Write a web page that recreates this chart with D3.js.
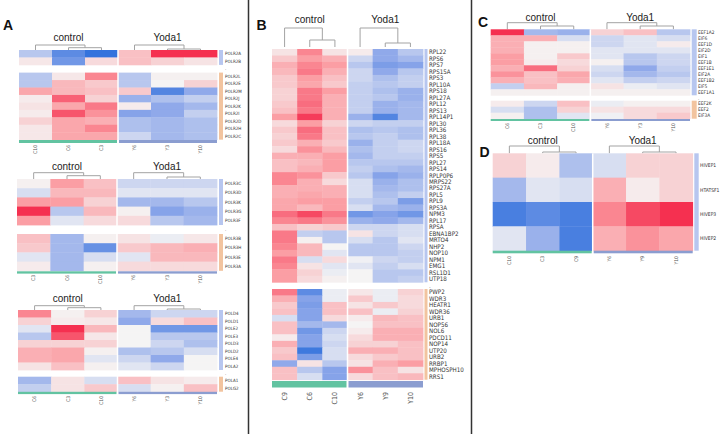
<!DOCTYPE html>
<html>
<head>
<meta charset="utf-8">
<script src="https://cdn.jsdelivr.net/npm/d3@7"></script>
<style>
body { margin: 0; background: #fff; }
text { font-family: "Liberation Sans", Arial, sans-serif; }
text.etiq { font-family: "Liberation Sans Narrow", "DejaVu Sans Condensed", "Liberation Sans", sans-serif; }
</style>
</head>
<body>
<div id="fig"></div>
<script>
// ---- data ----
const colsA1 = ["C10", "C6", "C3", "Y6", "Y3", "Y10"];
const rowsA1 = [["POLR2A", "POLR2B"],
  ["POLR2L", "POLR2E", "POLR2M", "POLR2J", "POLR2K", "POLR2I", "POLR2D", "POLR2H", "POLR2C"]];
const valsA1 = [
  [[-0.6, -1.5, -1.9, 0.6, 1.9, 1.9],
   [0.15, -1.3, 0.3, 0.6, 0.4, 0.2]],
  [[-0.6, 0.15, 1.2, -0.6, 0.05, 0.05],
   [-0.6, 0.7, 0.5, -0.6, 0.0, 0.4],
   [0.9, 0.7, 0.6, 0.5, -1.6, -1.0],
   [0.1, 1.5, 0.4, -0.9, -0.7, -0.5],
   [0.2, 0.9, 1.3, 0.1, -1.0, -0.8],
   [0.1, 1.6, 1.1, -1.1, -1.0, -0.5],
   [0.4, 0.9, 0.8, -0.7, -0.8, -0.7],
   [0.15, 0.9, 1.2, -0.7, -0.8, -0.7],
   [0.15, 0.9, 0.9, -0.4, -0.8, -0.7]]
];

const colsA2 = ["C3", "C6", "C10", "Y6", "Y3", "Y10"];
const rowsA2 = [["POLR3C", "POLR3D", "POLR3K", "POLR3G", "POLR3F"],
  ["POLR3B", "POLR3H", "POLR3E", "POLR3A"]];
const valsA2 = [
  [[0.05, 1.0, 0.6, -0.4, -0.4, -0.4],
   [-0.3, 0.7, 0.7, -0.2, -0.2, -0.2],
   [1.0, 1.0, 0.4, -0.8, -0.8, -0.6],
   [1.9, -0.6, 0.7, 0.05, -1.1, -0.9],
   [1.0, -0.2, 0.3, 0.3, -0.6, -0.8]],
  [[0.6, -0.8, 0.05, 0.2, -0.1, 0.15],
   [0.5, -0.8, -1.4, 0.5, 0.7, 0.8],
   [-0.2, -0.8, -0.3, -0.2, 0.7, 0.7],
   [0.1, -0.8, 0.05, 0.3, 0.3, 0.3]]
];

const colsA3 = ["C6", "C3", "C10", "Y6", "Y3", "Y10"];
const rowsA3 = [["POLD4", "POLD1", "POLE2", "POLE3", "POLD3", "POLD2", "POLE4", "POLA2"],
  ["POLA1", "POLG2"]];
const valsA3 = [
  [[1.2, 0.05, 0.4, -0.8, -0.4, -0.4],
   [0.4, 0.1, 0.15, -1.0, 0.3, 0.6],
   [-0.2, 1.9, 0.7, 0.0, -1.3, -1.3],
   [-0.6, 1.6, 0.15, 0.0, -0.6, -0.6],
   [0.4, 0.4, 0.4, 0.0, -0.4, -0.7],
   [0.8, 0.9, 0.05, -0.7, -0.6, -0.3],
   [0.8, 0.9, -0.2, -0.4, -1.0, 0.0],
   [0.2, 0.6, 0.05, -0.2, -0.4, 0.0]],
  [[-0.8, 0.2, -0.3, 0.6, 0.2, 0.1],
   [-0.5, 0.2, 0.5, -0.3, 0.05, 0.6]]
];

const colsB = ["C9", "C6", "C10", "Y6", "Y9", "Y10"];
const rowsB = [["RPL22", "RPS6", "RPS7", "RPS15A", "RPS3", "RPL10A", "RPS18", "RPL27A", "RPL12",
  "RPS13", "RPL14P1", "RPL30", "RPL36", "RPL38", "RPL18A", "RPS16", "RPS5", "RPL27", "RPS14",
  "RPLP0P6", "MRPS22", "RPS27A", "RPL5", "RPL9", "RPS3A", "NPM3", "RPL17", "RPSA", "EBNA1BP2",
  "MRTO4", "NHP2", "NOP10", "NPM1", "EMG1", "RSL1D1", "UTP18"],
  ["PWP2", "WDR3", "HEATR1", "WDR36", "URB1", "NOP56", "NOL6", "PDCD11", "NOP14", "UTP20",
  "URB2", "RRBP1", "MPHOSPH10", "RRS1"]];
const valsB = [
  [[0.2, 1.2, 0.2, 0.1, -1.0, -0.6],
   [0.5, 1.0, 0.8, -0.4, -1.0, -0.8],
   [0.8, 1.2, 1.0, -0.6, -1.2, -1.1],
   [0.7, 1.3, 0.8, -0.4, -1.0, -0.6],
   [0.5, 1.0, 0.6, -0.4, -0.7, -0.5],
   [0.5, 0.9, 0.5, -0.5, -0.6, -0.5],
   [0.4, 1.3, 1.0, -0.5, -0.7, -0.9],
   [0.4, 1.3, 0.8, -0.5, -0.6, -0.9],
   [0.5, 1.4, 0.8, -0.5, -0.9, -0.8],
   [0.6, 1.3, 0.8, -0.5, -0.9, -0.8],
   [1.0, 1.8, 0.8, -0.9, -1.6, -0.8],
   [0.3, 1.0, 0.4, -0.4, -0.5, -0.5],
   [0.5, 1.4, 0.6, -0.7, -0.6, -0.7],
   [0.4, 1.3, 0.6, -0.6, -0.5, -0.7],
   [0.5, 0.8, 0.5, -0.9, -0.5, -0.4],
   [0.3, 1.1, 0.7, -0.7, -0.5, -0.4],
   [0.8, 0.8, 1.0, -0.8, -0.5, -0.5],
   [0.6, 0.7, 1.0, -0.6, -0.6, -0.6],
   [0.6, 0.8, 1.0, -0.5, -0.7, -0.8],
   [1.2, 1.1, 0.5, -0.6, -1.1, -0.9],
   [1.2, 0.8, 0.3, -0.3, -0.9, -0.7],
   [0.8, 0.8, 0.8, -0.3, -0.8, -0.7],
   [0.8, 0.9, 0.8, -0.3, -0.7, -0.5],
   [0.9, 1.0, 1.0, -0.5, -0.6, -1.2],
   [0.9, 0.7, 1.0, -0.3, -0.8, -0.9],
   [1.4, 1.7, 1.3, -1.3, -1.1, -1.3],
   [1.2, 1.3, 1.1, -0.9, -1.0, -0.8],
   [0.6, 0.4, 0.5, -0.4, -0.4, -0.3],
   [1.3, -0.5, -0.6, 0.2, -0.4, -0.3],
   [1.3, 0.05, -0.6, -0.3, -0.6, -0.2],
   [1.2, 0.7, 0.0, -0.6, -0.6, -0.4],
   [1.0, 0.7, -0.2, -0.6, -0.6, -0.5],
   [1.3, -0.3, 0.3, -0.05, -0.4, -0.5],
   [1.2, 0.2, -0.2, -0.2, -0.5, -0.3],
   [1.0, 0.4, -0.1, 0.0, -0.6, -0.6],
   [1.0, 0.3, 0.05, 0.0, -0.6, -0.5]],
  [[1.3, -1.5, -0.1, 0.15, -0.1, 0.4],
   [0.8, -1.1, -0.1, 0.5, -0.1, 0.3],
   [0.5, -1.2, 0.6, 0.2, 0.5, 0.3],
   [0.6, -1.1, 0.6, 0.6, -0.1, 0.4],
   [-0.3, -1.1, 0.3, 0.1, 0.7, 0.6],
   [0.6, -0.8, -0.8, 0.0, 0.6, 0.6],
   [0.6, -1.3, -0.4, 0.1, 0.8, 0.8],
   [0.1, -1.1, -0.3, 0.3, 0.8, 0.8],
   [0.8, -1.1, -0.4, 0.4, 0.4, 0.6],
   [0.5, -1.8, -0.3, 0.8, 0.8, 0.6],
   [0.6, -1.2, -0.3, 0.3, 0.5, 0.6],
   [-1.0, 0.2, -0.6, 0.2, 0.8, 1.0],
   [0.6, -0.6, -1.1, 1.1, 0.6, 0.2],
   [0.6, -0.3, -1.1, 0.3, 0.6, 0.7]]
];

const colsC = ["C6", "C3", "C10", "Y6", "Y3", "Y10"];
const rowsC = [["EEF1A2", "EIF6", "EEF1D", "EIF2D", "EIF1", "EEF1B", "EEF1E1", "EIF2A", "EEF1B2", "EIF5", "EEF1A1"],
  ["EEF2K", "EEF2", "EIF3A"]];
const valsC = [
  [[1.9, -0.8, -0.9, 0.4, 0.6, -0.6],
   [0.8, 0.8, -0.3, -0.4, -0.2, -0.3],
   [0.8, 0.05, 0.05, -0.4, -0.2, 0.1],
   [0.8, 0.05, 0.05, -0.2, -0.2, -0.2],
   [1.0, 0.05, 0.5, -0.2, -0.6, -0.4],
   [1.0, 0.1, 0.3, 0.05, -0.6, -0.4],
   [0.8, 1.4, 0.4, -0.3, -1.0, -0.5],
   [1.1, 0.6, 0.9, -0.4, -0.8, -0.6],
   [0.8, 0.6, 0.8, -0.2, -0.5, -0.4],
   [-0.5, 0.7, 0.05, 0.2, -0.1, -0.2],
   [0.05, 0.05, 0.05, 0.05, 0.05, 0.05]],
  [[0.1, -0.4, 0.6, -0.1, 0.05, 0.05],
   [-0.3, -0.7, 0.4, 0.2, 0.3, 0.3],
   [0.05, -0.7, -0.2, -0.05, 0.3, 0.5]]
];

const colsD = ["C10", "C3", "C9", "Y6", "Y9", "Y10"];
const rowsD = [["HIVEP1", "HTATSF1", "HIVEP3", "HIVEP2"]];
const valsD = [
  [[0.4, 0.1, -0.7, -0.3, 0.4, 0.4],
   [-0.8, -0.2, -0.3, 0.8, 0.1, 0.4],
   [-1.7, -1.5, -1.7, 1.2, 1.7, 1.9],
   [-0.2, -0.9, -1.7, 0.8, 1.1, 0.9]]
];

const groups = ["control", "Yoda1"];

// ---- drawing ----
const W = 720, H = 434;
const svg = d3.select("#fig").append("svg")
  .attr("width", W).attr("height", H);

const color = d3.scaleLinear()
  .domain([-2, -1, 0, 1, 2])
  .range(["#2a6ddb", "#90a9ea", "#f5f4f4", "#fb9ea4", "#f42447"])
  .clamp(true);

const grupColor = ["#62c3a1", "#8b9dd0"];
const blocColor = ["#b7c6ef", "#f2c49f"];

function panell(p) {
  const g = svg.append("g");
  const x = d3.scaleBand().domain(p.cols).range([p.x0, p.x1]);
  const cw = x.bandwidth();

  // titles
  groups.forEach((t, i) => {
    g.append("text")
      .attr("x", (x(p.cols[i * 3]) + x(p.cols[i * 3 + 2]) + cw) / 2)
      .attr("y", p.titleY)
      .attr("text-anchor", "middle")
      .attr("font-size", 10)
      .attr("fill", "#222")
      .text(t);
  });

  // dendrograms
  groups.forEach((t, i) => {
    const c = [0, 1, 2].map(k => x(p.cols[i * 3 + k]) + cw / 2);
    const mid = (c[1] + c[2]) / 2;
    const top = p.dTop, sub = p.dSub[i], bot = p.dBot;
    const segs = [
      [c[0], top, mid, top], [c[0], top, c[0], bot], [mid, top, mid, sub],
      [c[1], sub, c[2], sub], [c[1], sub, c[1], bot], [c[2], sub, c[2], bot]
    ];
    g.append("g").selectAll("line").data(segs).enter().append("line")
      .attr("x1", d => d[0]).attr("y1", d => d[1])
      .attr("x2", d => d[2]).attr("y2", d => d[3])
      .attr("stroke", "#a3a3a3").attr("stroke-width", 1);
  });

  // blocks
  p.rows.forEach((files, b) => {
    const y = d3.scaleBand().domain(files)
      .range([p.yTop[b], p.yTop[b] + files.length * p.rowH]);
    const cel = [];
    files.forEach((r, ri) => p.cols.forEach((cn, ci) =>
      cel.push({r: r, c: cn, v: p.vals[b][ri][ci]})));
    g.append("g").selectAll("rect").data(cel).enter().append("rect")
      .attr("x", d => x(d.c))
      .attr("y", d => y(d.r))
      .attr("width", cw + 0.4)
      .attr("height", y.bandwidth() + 0.4)
      .attr("fill", d => color(d.v));
    // row annotation bar
    g.append("rect")
      .attr("x", p.annX).attr("y", p.yTop[b])
      .attr("width", p.annW).attr("height", files.length * p.rowH)
      .attr("fill", blocColor[b]);
    // row labels
    g.append("g").selectAll("text").data(files).enter().append("text")
      .attr("class", "etiq")
      .attr("x", p.labX)
      .attr("y", d => y(d) + y.bandwidth() / 2)
      .attr("dy", "0.35em")
      .attr("font-size", p.labFont)
      .attr("fill", "#333")
      .text(d => d);
    if (b === 0 && p.rows.length > 1) {
      g.append("text")
        .attr("x", p.labX)
        .attr("y", (p.yTop[0] + files.length * p.rowH + p.yTop[1]) / 2)
        .attr("dy", "0.35em")
        .attr("font-size", p.labFont)
        .attr("fill", "#555")
        .text(".");
    }
  });

  // white separator between groups
  const sx = x(p.cols[3]);
  g.append("line")
    .attr("x1", sx).attr("x2", sx)
    .attr("y1", p.yTop[0]).attr("y2", p.annY + p.annH)
    .attr("stroke", "#fff").attr("stroke-width", 1.5);

  // column annotation
  groups.forEach((t, i) => {
    g.append("rect")
      .attr("x", x(p.cols[i * 3]) + (i ? 1 : 0))
      .attr("y", p.annY)
      .attr("width", cw * 3 - 1)
      .attr("height", p.annH)
      .attr("fill", grupColor[i]);
  });

  // column labels
  g.append("g").selectAll("text").data(p.cols).enter().append("text")
    .attr("class", "etiq")
    .attr("transform", d => `translate(${x(d) + cw / 2},${p.colLabY}) rotate(-90)`)
    .attr("text-anchor", "end")
    .attr("dy", "0.35em")
    .attr("font-size", p.colFont)
    .attr("fill", "#555")
    .text(d => d);

  if (p.lletra) {
    g.append("text")
      .attr("x", p.lletra[1]).attr("y", p.lletra[2])
      .attr("font-size", 14).attr("font-weight", "bold")
      .attr("fill", "#111")
      .text(p.lletra[0]);
  }
}

// panel separators
[248.5, 471.5].forEach(sx => {
  svg.append("line")
    .attr("x1", sx).attr("x2", sx).attr("y1", 0).attr("y2", H)
    .attr("stroke", "#333").attr("stroke-width", 1.5);
});

panell({lletra: ["A", 3, 30], cols: colsA1, rows: rowsA1, vals: valsA1,
  x0: 19, x1: 217, yTop: [50, 72.6], rowH: 7.45,
  titleY: 41, dTop: 45, dSub: [47.7, 49], dBot: 50,
  annY: 140, annH: 3, annX: 219, annW: 4, labX: 225, labFont: 4.5,
  colLabY: 145, colFont: 5});

panell({cols: colsA2, rows: rowsA2, vals: valsA2,
  x0: 17, x1: 217, yTop: [179, 234], rowH: 9.2,
  titleY: 170, dTop: 172.7, dSub: [175.7, 177], dBot: 179,
  annY: 271.3, annH: 2.3, annX: 219, annW: 4, labX: 225, labFont: 4.5,
  colLabY: 275, colFont: 5});

panell({cols: colsA3, rows: rowsA3, vals: valsA3,
  x0: 18, x1: 217, yTop: [310, 376.7], rowH: 7.5,
  titleY: 302, dTop: 305.7, dSub: [307.7, 309], dBot: 310,
  annY: 391.8, annH: 2.3, annX: 219, annW: 4, labX: 225, labFont: 4.5,
  colLabY: 396, colFont: 5});

panell({lletra: ["B", 256.5, 29.5], cols: colsB, rows: rowsB, vals: valsB,
  x0: 272, x1: 423, yTop: [49, 289], rowH: 6.48,
  titleY: 23, dTop: 28, dSub: [40, 43], dBot: 47,
  annY: 381, annH: 6.5, annX: 424.5, annW: 3, labX: 429, labFont: 6.2,
  colLabY: 392, colFont: 7});

panell({lletra: ["C", 478, 27.3], cols: colsC, rows: rowsC, vals: valsC,
  x0: 490.7, x1: 690, yTop: [29.3, 100.7], rowH: 6,
  titleY: 21, dTop: 22.7, dSub: [26, 26], dBot: 29.3,
  annY: 119, annH: 2, annX: 691.7, annW: 5, labX: 698, labFont: 4.8,
  colLabY: 123, colFont: 5});

panell({lletra: ["D", 479.5, 156.7], cols: colsD, rows: rowsD, vals: valsD,
  x0: 492.7, x1: 692.7, yTop: [153.3], rowH: 24.35,
  titleY: 144, dTop: 146, dSub: [152, 152], dBot: 153.3,
  annY: 250.7, annH: 2.6, annX: 694.3, annW: 4.4, labX: 700, labFont: 5,
  colLabY: 256, colFont: 5});
</script>
</body>
</html>
